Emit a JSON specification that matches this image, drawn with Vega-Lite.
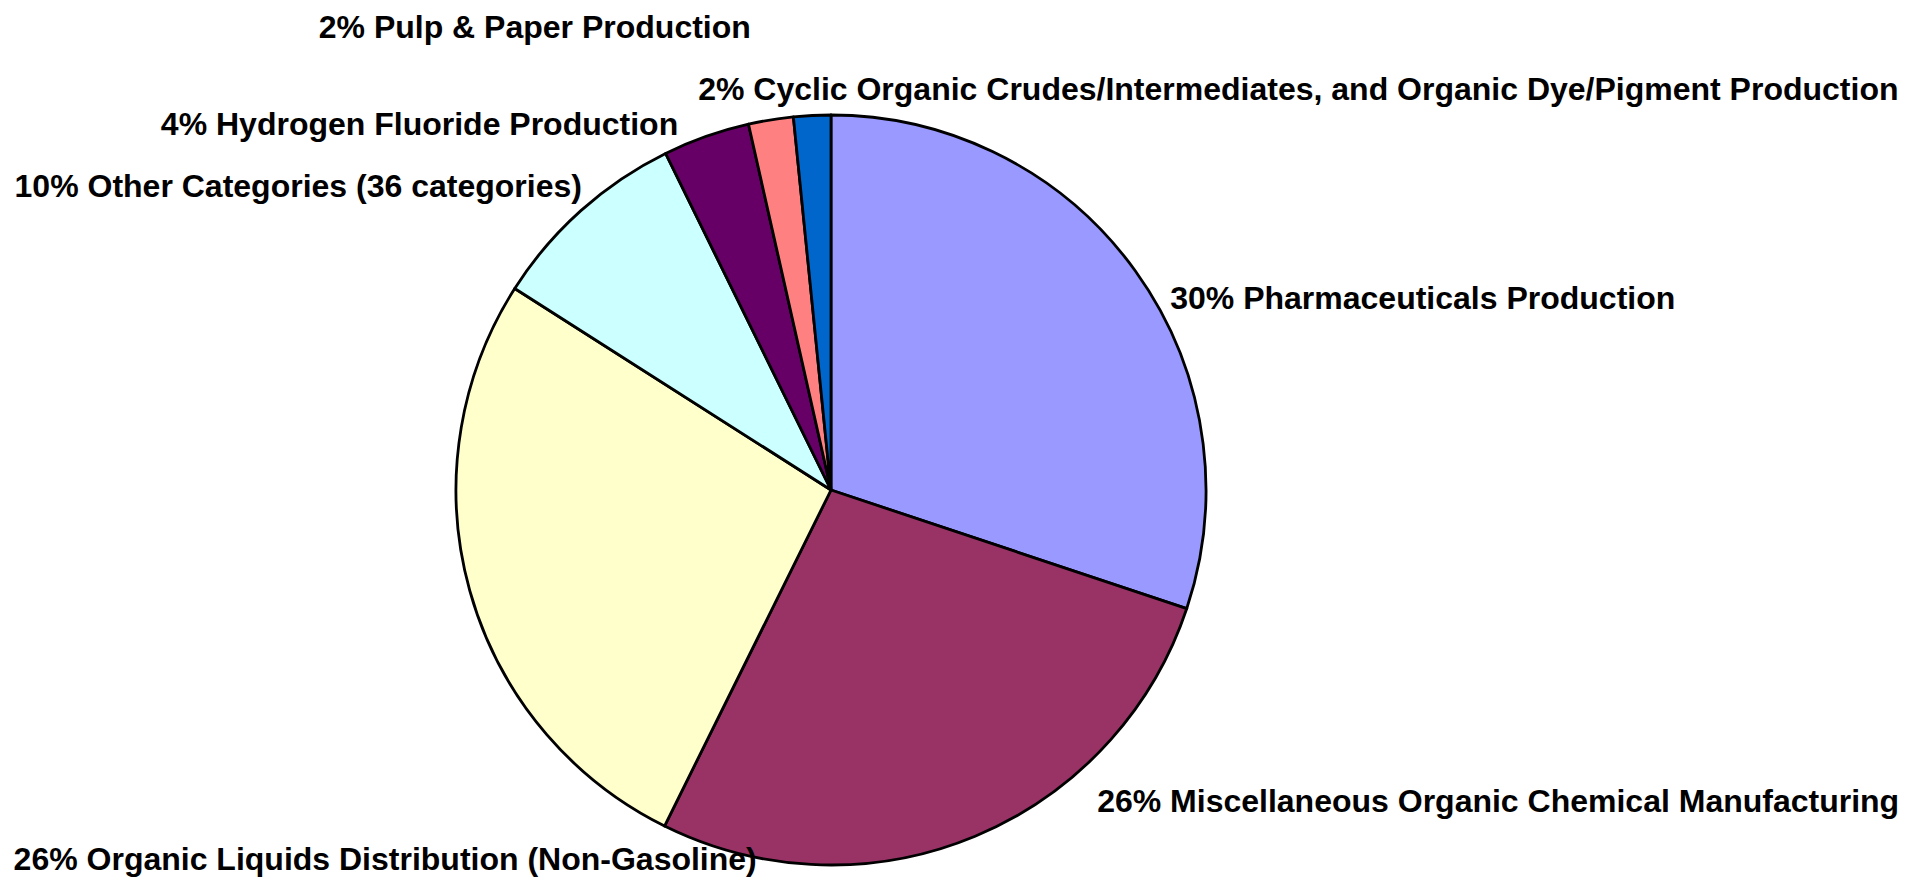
{
  "$schema": "https://vega.github.io/schema/vega-lite/v6.json",
  "autosize": "none",
  "width": 750,
  "height": 750,
  "padding": {"left": 456, "top": 115, "right": 699, "bottom": 13},
  "background": "white",
  "config": {"view": {"stroke": null}},
  "data": {
    "values": [
      {"category": "Pharmaceuticals Production", "label": "30% Pharmaceuticals Production", "value": 30.12},
      {"category": "Miscellaneous Organic Chemical Manufacturing", "label": "26% Miscellaneous Organic Chemical Manufacturing", "value": 27.20},
      {"category": "Organic Liquids Distribution (Non-Gasoline)", "label": "26% Organic Liquids Distribution (Non-Gasoline)", "value": 26.71},
      {"category": "Other Categories (36 categories)", "label": "10% Other Categories (36 categories)", "value": 8.70},
      {"category": "Hydrogen Fluoride Production", "label": "4% Hydrogen Fluoride Production", "value": 3.74},
      {"category": "Pulp & Paper Production", "label": "2% Pulp & Paper Production", "value": 1.93},
      {"category": "Cyclic Organic Crudes/Intermediates, and Organic Dye/Pigment Production", "label": "2% Cyclic Organic Crudes/Intermediates, and Organic Dye/Pigment Production", "value": 1.60}
    ]
  },
  "transform": [{"window": [{"op": "row_number", "as": "idx"}]}],
  "encoding": {
    "theta": {"field": "value", "type": "quantitative", "stack": true},
    "order": {"field": "idx", "type": "quantitative"}
  },
  "layer": [
    {
      "mark": {"type": "arc", "stroke": "black", "strokeWidth": 2.8, "strokeJoin": "round"},
      "encoding": {
        "color": {
          "field": "category",
          "type": "nominal",
          "legend": null,
          "scale": {
            "domain": [
              "Pharmaceuticals Production",
              "Miscellaneous Organic Chemical Manufacturing",
              "Organic Liquids Distribution (Non-Gasoline)",
              "Other Categories (36 categories)",
              "Hydrogen Fluoride Production",
              "Pulp & Paper Production",
              "Cyclic Organic Crudes/Intermediates, and Organic Dye/Pigment Production"
            ],
            "range": ["#9999FF", "#993366", "#FFFFCC", "#CCFFFF", "#660066", "#FF8080", "#0066CC"]
          }
        }
      }
    },
    {
      "mark": {
        "type": "text",
        "radius": 375,
        "font": "Liberation Sans",
        "fontWeight": "bold",
        "fontSize": 32,
        "fill": "black",
        "baseline": "alphabetic",
        "align": {"expr": "(datum.idx == 1 || datum.idx == 2 || datum.idx == 7) ? 'left' : 'right'"},
        "dx": {"expr": "[35, 122, 287, 1, -28, -20, -114][datum.idx - 1]"},
        "dy": {"expr": "[38, -24, 279, -14, -1, -82, -15][datum.idx - 1]"}
      },
      "encoding": {
        "detail": {"field": "category", "type": "nominal"},
        "text": {"field": "label", "type": "nominal"}
      }
    }
  ]
}
